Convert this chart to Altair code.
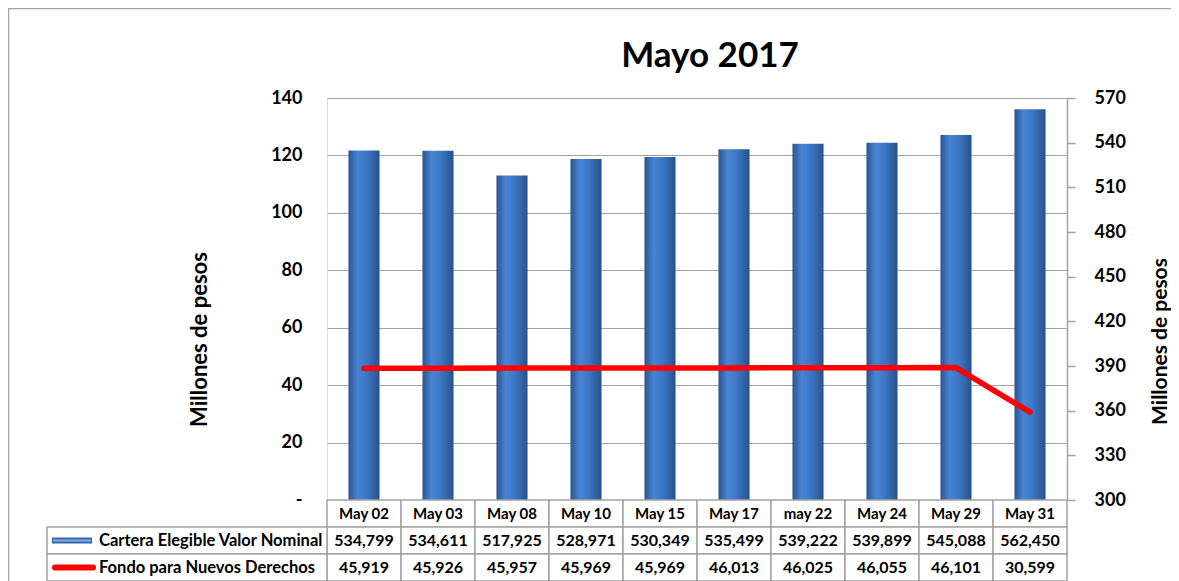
import altair as alt
import pandas as pd

# ---- data ----
CATS = ["May 02", "May 03", "May 08", "May 10", "May 15", "May 17",
        "may 22", "May 24", "May 29", "May 31"]
CARTERA = [534799, 534611, 517925, 528971, 530349, 535499, 539222, 539899, 545088, 562450]
FONDO = [45919, 45926, 45957, 45969, 45969, 46013, 46025, 46055, 46101, 30599]
LEFT_TICKS = [0, 20, 40, 60, 80, 100, 120, 140]
RIGHT_TICKS = [300, 330, 360, 390, 420, 450, 480, 510, 540, 570]
LABEL_CARTERA = "Cartera  Elegible Valor Nominal"
LABEL_FONDO = "Fondo para Nuevos Derechos"
TITLE = "Mayo 2017"
AXIS_TITLE = "Millones de pesos"

# ---- layout ----
W, H = 740, 402
ROWS = ["hdr", "cartera", "fondo"]
TABLE_RANGE = [H, H + 81]
GRID = "#a3a3a3"
FONT = "Lato"
NUM_FONT = "Liberation Sans Narrow, Lato"

df = pd.DataFrame({"cat": CATS, "cartera": CARTERA, "fondo": FONDO})
df["cartera_m"] = df["cartera"] / 1000
df["fondo_m"] = df["fondo"] / 1000

x_enc = alt.X("cat:N", sort=CATS,
              scale=alt.Scale(domain=CATS, paddingInner=0, paddingOuter=0),
              axis=None)
y_tab = alt.Y("row:N", sort=ROWS,
              scale=alt.Scale(domain=ROWS, range=TABLE_RANGE, paddingInner=0, paddingOuter=0),
              axis=None)

grad = alt.Gradient(
    gradient="linear", x1=0, x2=1, y1=0, y2=0,
    stops=[alt.GradientStop(offset=0, color="#2a5491"),
           alt.GradientStop(offset=0.3, color="#4785d4"),
           alt.GradientStop(offset=0.6, color="#3b76c3"),
           alt.GradientStop(offset=1, color="#29518c")])

# outer chart frame (only its top and left edges fall inside the picture)
one = pd.DataFrame({"k": [0]})
frame = alt.Chart(one).mark_rect(fill="transparent", stroke=GRID, strokeWidth=1.5).encode(
    x=alt.value(-318.5), x2=alt.value(900), y=alt.value(-89.5), y2=alt.value(620))

bars = alt.Chart(df).mark_bar(width={"band": 0.42}, fill=grad).encode(
    x=x_enc,
    y=alt.Y("cartera_m:Q",
            scale=alt.Scale(domain=[300, 570], zero=False, nice=False),
            axis=alt.Axis(orient="right", values=RIGHT_TICKS, title=AXIS_TITLE,
                          grid=False, domain=True, domainColor=GRID, domainWidth=1.5,
                          ticks=True, tickColor=GRID, tickSize=8, tickWidth=1.5,
                          labelPadding=19, labelFont=FONT, labelFontSize=18,
                          labelFontWeight="bold", labelColor="black",
                          titleFont=FONT, titleFontSize=21, titleFontWeight="bold",
                          titleColor="black", titleAngle=270, titleBaseline="middle",
                          titleX=93, titleY=243)),
    y2=alt.datum(300),
)

line = alt.Chart(df).mark_line(color="#ff0000", strokeWidth=5.5,
                               strokeCap="round", strokeJoin="round").encode(
    x=x_enc,
    y=alt.Y("fondo_m:Q",
            scale=alt.Scale(domain=[0, 140], nice=False),
            axis=alt.Axis(orient="left", values=LEFT_TICKS, title=AXIS_TITLE,
                          labelExpr="datum.value == 0 ? '-' : datum.label",
                          grid=True, gridColor=GRID, gridWidth=1.2,
                          domain=False, ticks=False, labelPadding=25,
                          labelFont=FONT, labelFontSize=18, labelFontWeight="bold",
                          labelColor="black",
                          titleFont=FONT, titleFontSize=22, titleFontWeight="bold",
                          titleColor="black", titleAngle=270, titleBaseline="middle",
                          titleX=-128, titleY=241)),
)

# ---- data table below the plot ----
cells_df = pd.DataFrame([(c, r) for r in ROWS for c in CATS], columns=["cat", "row"])
cells = alt.Chart(cells_df).mark_rect(fill="white", stroke=GRID, strokeWidth=1.5).encode(
    x=x_enc, y=y_tab)

lab_df = pd.DataFrame({"row": ["cartera", "fondo"],
                       "label": [LABEL_CARTERA, LABEL_FONDO]})
lab_cells = alt.Chart(lab_df).mark_rect(fill="white", stroke=GRID, strokeWidth=1.5).encode(
    x=alt.value(-280), x2=alt.value(0), y=y_tab)

blue_df = lab_df[lab_df["row"] == "cartera"]
red_df = lab_df[lab_df["row"] == "fondo"]
swatch_blue = alt.Chart(blue_df).mark_rule(strokeWidth=6, strokeCap="butt", color="#3466aa").encode(
    x=alt.value(-275), x2=alt.value(-235), y=y_tab)
swatch_blue_hi = alt.Chart(blue_df).mark_rule(strokeWidth=2, strokeCap="butt", color="#7eaee6").encode(
    x=alt.value(-274), x2=alt.value(-236), y=y_tab)
swatch_red = alt.Chart(red_df).mark_rule(strokeWidth=6, strokeCap="round", color="#ff0000").encode(
    x=alt.value(-272), x2=alt.value(-234), y=y_tab)

lab_text = alt.Chart(lab_df).mark_text(align="left", baseline="middle", font=FONT,
                                       fontSize=16.5, fontWeight="bold", color="black").encode(
    x=alt.value(-228), y=y_tab, text="label:N")

hdr_df = pd.DataFrame({"cat": CATS, "row": "hdr"})
hdr_text = alt.Chart(hdr_df).mark_text(baseline="middle", font=FONT, fontSize=15,
                                       fontWeight="bold", color="black").encode(
    x=x_enc, y=y_tab, text="cat:N")

val_df = pd.concat([
    pd.DataFrame({"cat": CATS, "row": "cartera", "value": CARTERA}),
    pd.DataFrame({"cat": CATS, "row": "fondo", "value": FONDO}),
])
val_text = alt.Chart(val_df).mark_text(baseline="middle", font=NUM_FONT, fontSize=16,
                                       fontWeight="bold", color="black").encode(
    x=x_enc, y=y_tab, text=alt.Text("value:Q", format=","))

chart = alt.layer(
    frame, bars, line, cells, lab_cells,
    swatch_blue, swatch_blue_hi, swatch_red, lab_text, hdr_text, val_text
).resolve_scale(y="independent").properties(
    width=W, height=H,
    title=alt.TitleParams(TITLE, font=FONT, fontSize=35, fontWeight="bold", color="black",
                          anchor="middle", frame="group", dx=13, offset=-66),
    autosize=alt.AutoSizeParams(type="none"),
    padding={"left": 319, "top": 90, "right": 104, "bottom": 81},
).configure_view(stroke=GRID, strokeWidth=1.5).configure(background="white")

chart.save("out.html", embed_options={"renderer": "svg", "actions": False})
